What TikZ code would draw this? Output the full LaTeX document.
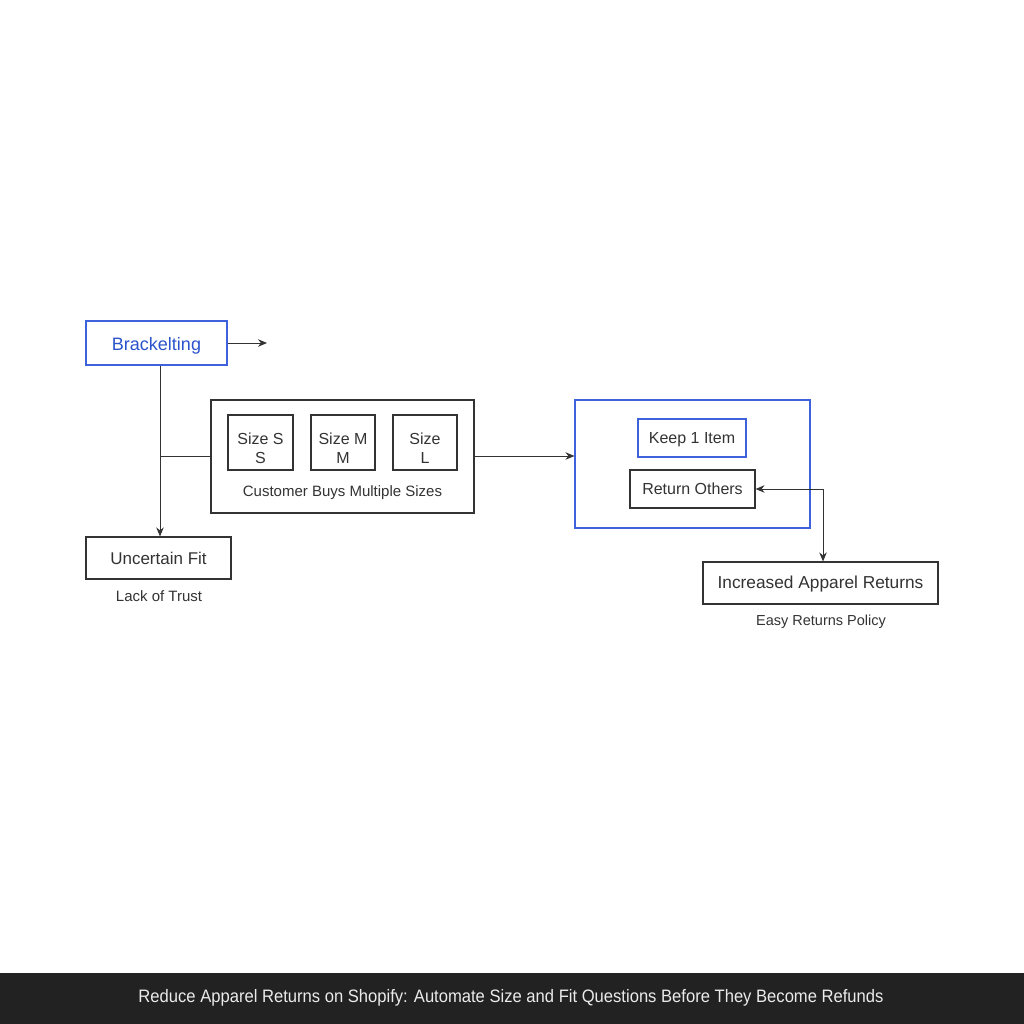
\documentclass[tikz,border=0pt]{standalone}
\usepackage{fontspec}
\setmainfont{Liberation Sans}
\usetikzlibrary{arrows.meta}
\definecolor{bblue}{HTML}{3D62DC}
\definecolor{tblue}{HTML}{2B54CC}
\definecolor{ink}{HTML}{333333}
\definecolor{bar}{HTML}{222222}
\begin{document}
\begin{tikzpicture}[x=1pt,y=-1pt,
  box/.style={draw=ink,line width=1.1pt,inner sep=0pt,text=ink,font=\fontsize{16}{20}\selectfont,align=center},
  bbox/.style={box,draw=bblue},
  lbl/.style={text=ink,inner sep=0pt,align=center,font=\fontsize{16}{19}\selectfont},
  captext/.style={text=ink,font=\fontsize{14.5}{16}\selectfont,inner sep=0pt},
  conn/.style={draw=ink,line width=1pt},
  tip/.tip={Stealth[length=9pt,width=7.5pt]},
  arr/.style={conn,-tip}]
\useasboundingbox (0,0) rectangle (1024,1024);
\fill[white] (0,0) rectangle (1024,973);
\fill[bar] (0,973) rectangle (1024,1024);
\node[text=white!92!black,font=\fontsize{18}{20}\selectfont,inner sep=0pt,xscale=0.922] (title) at (511,998) {Reduce Apparel Returns on Shopify: Automate Size and Fit Questions Before They Become Refunds};

\node[bbox,minimum width=141pt,minimum height=44pt,text=tblue,font=\fontsize{18}{20}\selectfont,text height=17pt,text depth=3pt] (brk) at (156.5,343) {Brackelting};
\coordinate (brkend) at (267,343);
\draw[arr] (brk.east) -- (brkend);

\node[box,minimum width=263pt,minimum height=113pt] (cust) at (342.5,456.5) {};
\node[box,minimum width=65pt,minimum height=55pt] (ss) at (260.5,442.5) {};
\node[box,minimum width=64pt,minimum height=55pt] (sm) at (343,442.5) {};
\node[box,minimum width=64pt,minimum height=55pt] (sl) at (425,442.5) {};
\node[lbl] (sstext) at ([yshift=-6pt]ss.center) {Size S\\S};
\node[lbl] (smtext) at ([yshift=-6pt]sm.center) {Size M\\M};
\node[lbl] (sltext) at ([yshift=-6pt]sl.center) {Size\\L};
\node[captext,font=\fontsize{15}{16}\selectfont] (custcap) at (342.5,493) {Customer Buys Multiple Sizes};

\node[box,minimum width=145pt,minimum height=42pt,font=\fontsize{17}{20}\selectfont] (unc) at (158.5,558) {Uncertain Fit};
\node[captext,font=\fontsize{15}{16}\selectfont] (unccap) at (159,596) {Lack of Trust};

\coordinate (bx) at (160,365);
\draw[arr] (brk.south -| bx) -- (unc.north -| bx);
\coordinate (jn) at (160,456);
\draw[conn] (jn) -- (jn -| cust.west);

\node[bbox,minimum width=235pt,minimum height=128pt] (res) at (692.5,464) {};
\draw[arr] (cust.east |- jn) -- (res.west |- jn);
\node[bbox,minimum width=108pt,minimum height=38pt,text height=13pt,text depth=3pt] (keep) at (692,438) {Keep 1 Item};
\node[box,minimum width=125pt,minimum height=38pt] (ret) at (692.5,489) {Return Others};

\node[box,minimum width=235pt,minimum height=42pt,font=\fontsize{17.3}{20}\selectfont,text height=13pt,text depth=2pt] (inc) at (820.5,583) {Increased Apparel Returns};
\node[captext] (inccap) at (821,622) {Easy Returns Policy};

\coordinate (corner) at (823,489);
\draw[conn,tip-tip] (ret.east) -- (corner) -- (corner |- inc.north);
\end{tikzpicture}
\end{document}
